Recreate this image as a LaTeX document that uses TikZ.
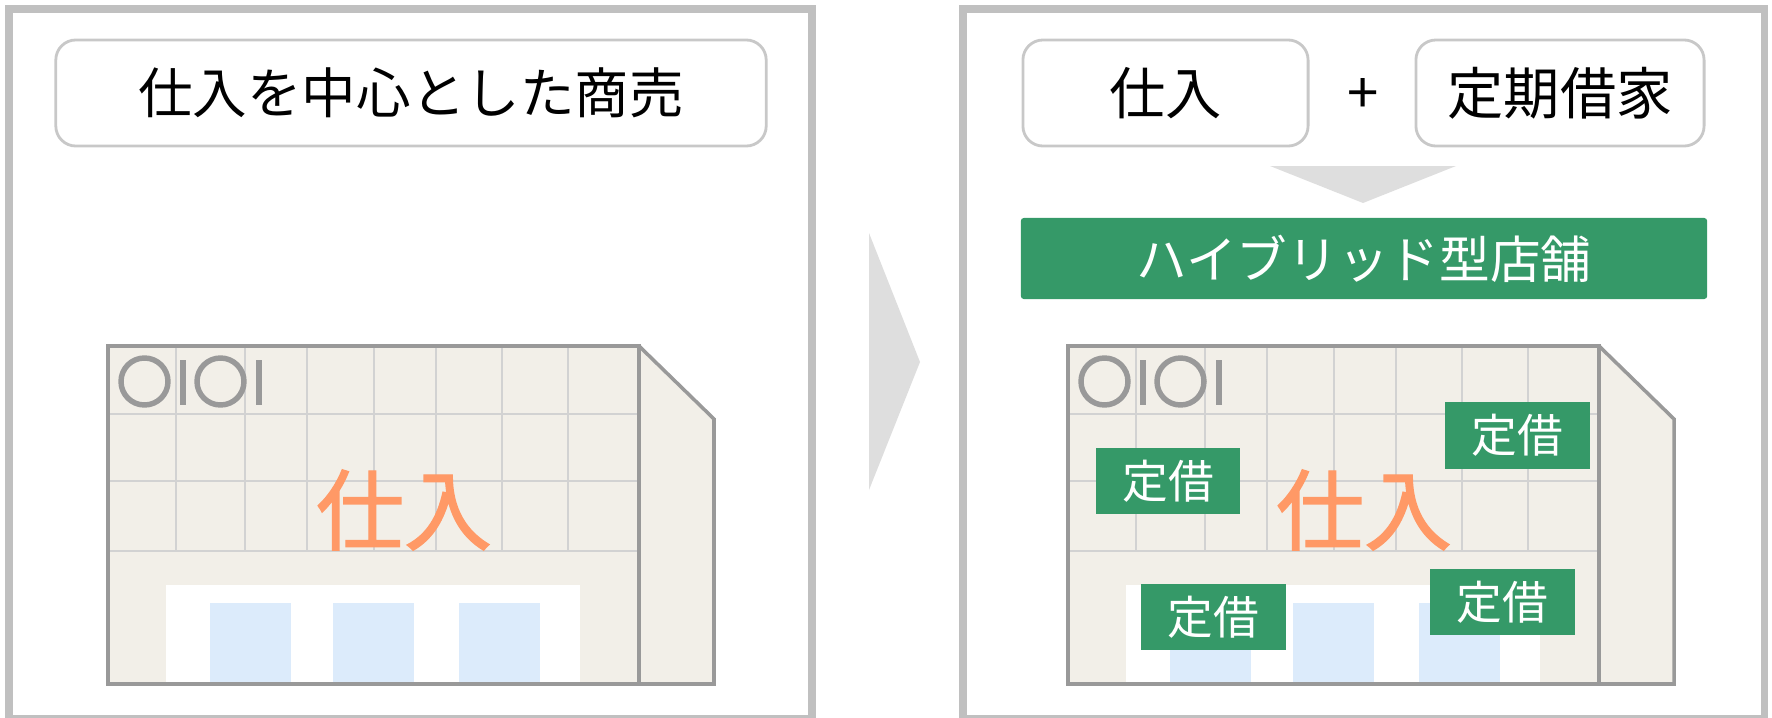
\documentclass[tikz,border=0pt]{standalone}
\usepackage{fontspec}
\setmainfont{Noto Sans CJK JP}
\newfontfamily\heavyfont[FakeBold=1.5]{Noto Sans CJK JP}
\definecolor{panelgray}{HTML}{C0C0C0}
\definecolor{boxgray}{HTML}{C8C8C8}
\definecolor{wallgray}{HTML}{999999}
\definecolor{wallfill}{HTML}{F2EFE8}
\definecolor{gridgray}{HTML}{D2D2D2}
\definecolor{glass}{HTML}{DCEBFB}
\definecolor{teigreen}{HTML}{359968}
\definecolor{shiireorange}{HTML}{FF9966}
\definecolor{arrowgray}{HTML}{DEDEDE}
\begin{document}
\begin{tikzpicture}[x=0.01cm, y=-0.01cm, line join=miter,
    panel/.style={draw=panelgray, line width=2pt},
    labelbox/.style={draw=boxgray, line width=0.8pt, rounded corners=2mm, fill=white,
      inner sep=0pt, minimum height=1.06cm, font=\fontsize{15.5}{18}\selectfont},
    tagbox/.style={fill=teigreen, text=white, inner sep=0pt, minimum width=1.44cm,
      minimum height=0.66cm, font=\fontsize{13}{15}\selectfont},
    stocklabel/.style={text=shiireorange, inner sep=0pt, font=\heavyfont\fontsize{25}{28}\selectfont}]
  \useasboundingbox (0,0) rectangle (1772,718);

  % two panels
  \draw[panel] (9,9) rectangle (812,719);
  \draw[panel] (963,9) rectangle (1764,719);

  % left: heading
  \node[labelbox, minimum width=7.10cm] (title) at (411,93) {仕入を中心とした商売};

  % arrow between panels
  \fill[arrowgray] (869,233) -- (920,362) -- (869,490) -- cycle;

  % right: heading boxes
  \node[labelbox, minimum width=2.85cm, font=\fontsize{16}{18}\selectfont] (stock) at (1165.5,93) {仕入};
  \node[font=\fontsize{16}{18}\selectfont, inner sep=0pt] (plus) at (1363,96) {+};
  \node[labelbox, minimum width=2.88cm, font=\fontsize{16}{18}\selectfont] (lease) at (1560,93) {定期借家};
  \fill[arrowgray] (1270,166) -- (1456,166) -- (1363,203) -- cycle;
  \node[fill=teigreen, text=white, rounded corners=0.3mm, inner sep=0pt,
    minimum width=6.86cm, minimum height=0.81cm, font=\fontsize{14.4}{16}\selectfont]
    (hybrid) at (1364,258.5) {ハイブリッド型店舗};

  % shop building, drawn in both panels
  \foreach \dx in {0,960} {
    \begin{scope}[shift={(\dx,0)}]
      \fill[wallfill] (108,346) rectangle (639,684);
      \fill[wallfill] (639,346) -- (714,419) -- (714,684) -- (639,684) -- cycle;
      \foreach \gx in {176,245,307,374,436,502,568}
        \draw[gridgray, line width=0.4pt] (\gx,346) -- (\gx,551);
      \foreach \gy in {414,481,551}
        \draw[gridgray, line width=0.4pt] (108,\gy) -- (639,\gy);
      \fill[white] (166,585) rectangle (580,683);
      \foreach \wx in {210,333,459}
        \fill[glass] (\wx,603) rectangle ++(81,80);
      \draw[wallgray, line width=1pt] (108,346) rectangle (639,684);
      \draw[wallgray, line width=1pt] (639,346) -- (714,419) -- (714,684) -- (639,684);
      % logo
      \draw[wallgray, line width=1.55pt] (144.5,381.5) circle (23.5) (220.5,381.5) circle (23.5);
      \draw[wallgray, line width=1.55pt] (183,360) -- (183,405) (259,360) -- (259,405);
      \node[stocklabel] (shop\dx) at (404,510) {仕入};
    \end{scope}
  }

  % leased spots on the hybrid shop
  \node[tagbox] (teiA) at (1168,481) {定借};
  \node[tagbox] (teiB) at (1517.5,435.5) {定借};
  \node[tagbox] (teiC) at (1213.5,617) {定借};
  \node[tagbox] (teiD) at (1502.5,602) {定借};
\end{tikzpicture}
\end{document}
